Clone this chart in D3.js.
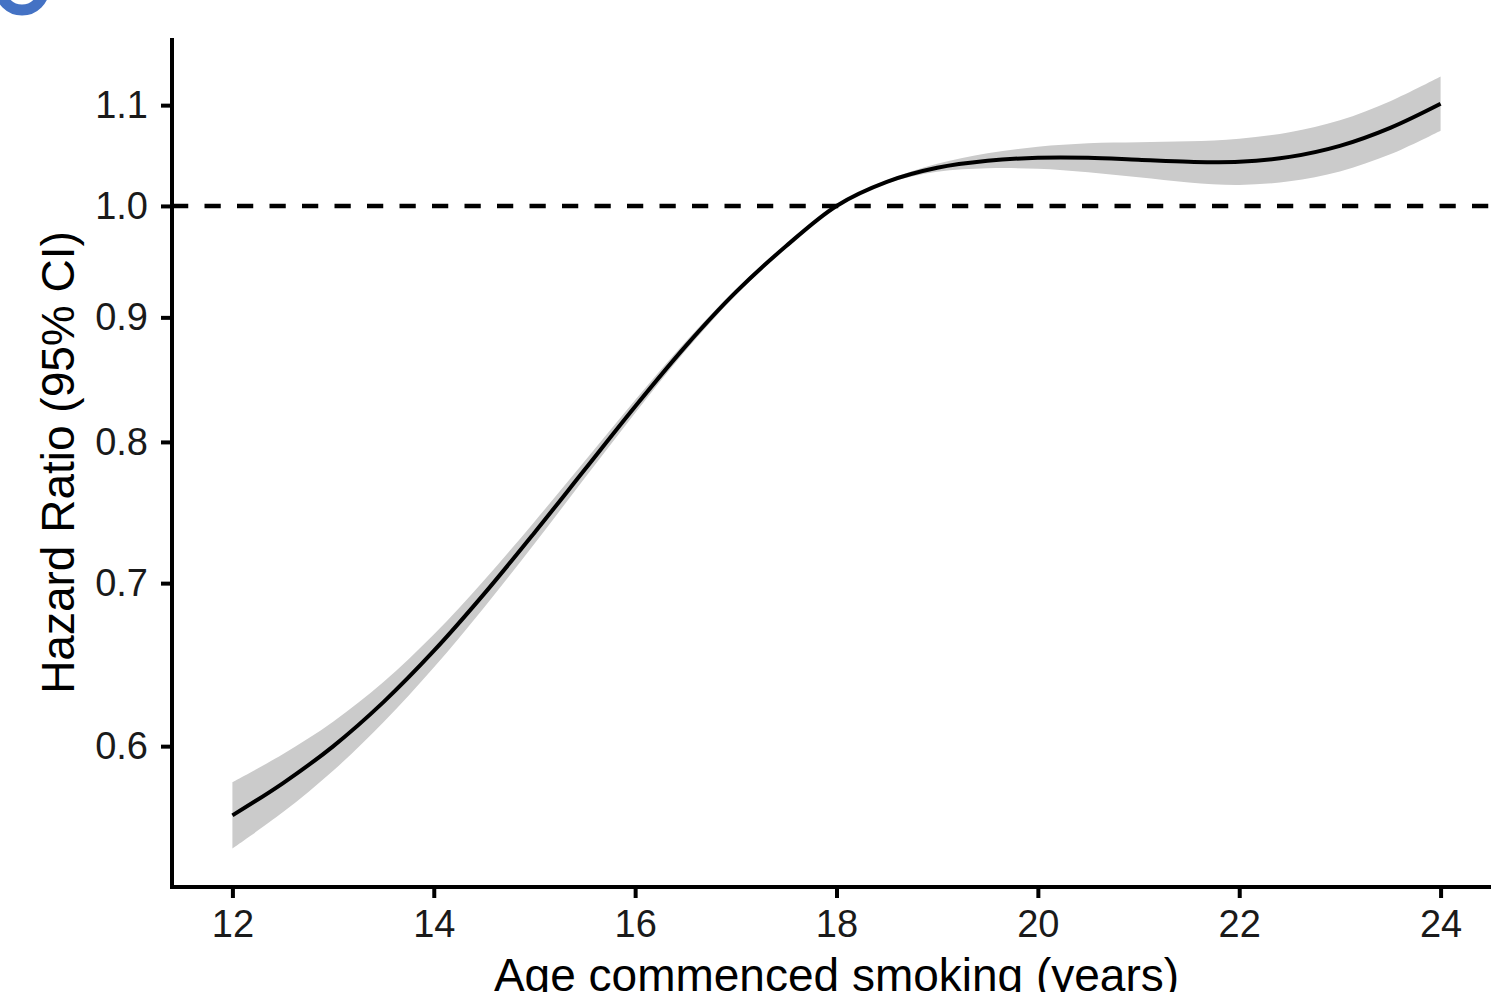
<!DOCTYPE html>
<html lang="en">
<head>
  <meta charset="utf-8">
  <title>Hazard ratio by age commenced smoking</title>
  <script src="https://cdn.jsdelivr.net/npm/d3@7"></script>
  <style>
    body { margin: 0; background: #fff; }
    svg { display: block; font-family: "Liberation Sans", Arial, sans-serif; }
  </style>
</head>
<body>
  <svg class="chart" width="1491" height="992"></svg>
  <script>
    var width = 1491, height = 992;

    // values
    var age   = [12, 12.5, 13, 13.5, 14, 14.5, 15, 15.5, 16, 16.5, 17, 17.5, 18,
                 18.5, 19, 19.5, 20, 20.5, 21, 21.5, 22, 22.5, 23, 23.5, 24];
    var hr    = [0.5620, 0.5793, 0.5999, 0.6255, 0.6565, 0.6929, 0.7342, 0.7794, 0.8273, 0.8757, 0.9217, 0.9628, 1.0000,
                 1.0230, 1.0367, 1.0436, 1.0466, 1.0466, 1.0446, 1.0426, 1.0426, 1.0475, 1.0585, 1.0767, 1.1015];
    var lower = [0.5447, 0.5636, 0.5862, 0.6137, 0.6463, 0.6841, 0.7266, 0.7731, 0.8222, 0.8720, 0.9191, 0.9614, 0.9995,
                 1.0215, 1.0328, 1.0362, 1.0357, 1.0323, 1.0274, 1.0225, 1.0201, 1.0235, 1.0332, 1.0500, 1.0737];
    var upper = [0.5798, 0.5954, 0.6140, 0.6375, 0.6668, 0.7019, 0.7419, 0.7857, 0.8324, 0.8795, 0.9243, 0.9642, 1.0005,
                 1.0245, 1.0406, 1.0510, 1.0575, 1.0610, 1.0620, 1.0630, 1.0656, 1.0722, 1.0844, 1.1041, 1.1301];

    var xTicks = [12, 14, 16, 18, 20, 22, 24];
    var yTicks = [0.6, 0.7, 0.8, 0.9, 1.0, 1.1];
    var refLine = 1.0;
    var xTitle = "Age commenced smoking (years)";
    var yTitle = "Hazard Ratio (95% CI)";

    var data = age.map(function(a, i) {
      return { age: a, hr: hr[i], lo: lower[i], hi: upper[i] };
    });

    // panel edges (the right side of the original is cut off)
    var panelLeft = 172, panelRight = 1501, panelTop = 38, panelBottom = 887;

    // ggplot-like 5% expansion, on the log scale for y
    var xExt = d3.extent(age), xPad = (xExt[1] - xExt[0]) * 0.05;
    var lnLo = Math.log(d3.min(lower)), lnHi = Math.log(d3.max(upper));
    var yPad = (lnHi - lnLo) * 0.05;

    var x = d3.scaleLinear()
              .domain([xExt[0] - xPad, xExt[1] + xPad])
              .range([panelLeft, panelRight]);

    var y = d3.scaleLog()
              .domain([Math.exp(lnLo - yPad), Math.exp(lnHi + yPad)])
              .range([panelBottom, panelTop]);

    var svg = d3.select("svg.chart");

    // panel label ring, top-left corner
    svg.append("circle")
       .attr("cx", 22).attr("cy", -12).attr("r", 22)
       .attr("fill", "none")
       .attr("stroke", "#4472c4")
       .attr("stroke-width", 11);

    var band = d3.area()
                 .curve(d3.curveCatmullRom)
                 .x(function(d) { return x(d.age); })
                 .y0(function(d) { return y(d.lo); })
                 .y1(function(d) { return y(d.hi); });

    var line = d3.line()
                 .curve(d3.curveCatmullRom)
                 .x(function(d) { return x(d.age); })
                 .y(function(d) { return y(d.hr); });

    svg.append("path")
       .datum(data)
       .attr("d", band)
       .attr("fill", "#cbcbcb");

    svg.append("line")
       .attr("x1", panelLeft).attr("x2", panelRight)
       .attr("y1", y(refLine)).attr("y2", y(refLine))
       .attr("stroke", "#000")
       .attr("stroke-width", 4.5)
       .attr("stroke-dasharray", "16.25 16.25");

    svg.append("path")
       .datum(data)
       .attr("d", line)
       .attr("fill", "none")
       .attr("stroke", "#000")
       .attr("stroke-width", 4);

    // axes
    var xAxis = svg.append("g")
       .attr("transform", "translate(0," + panelBottom + ")")
       .call(d3.axisBottom(x).tickValues(xTicks).tickSize(11).tickPadding(12).tickSizeOuter(0));

    var yAxis = svg.append("g")
       .attr("transform", "translate(" + panelLeft + ",0)")
       .call(d3.axisLeft(y).tickValues(yTicks).tickFormat(d3.format(".1f")).tickSize(11).tickPadding(13).tickSizeOuter(0));

    [xAxis, yAxis].forEach(function(g) {
      g.select(".domain").attr("stroke", "#000").attr("stroke-width", 4);
      g.selectAll(".tick line").attr("stroke", "#000").attr("stroke-width", 4);
      g.selectAll(".tick text")
       .attr("fill", "#1a1a1a")
       .style("font-size", "38px")
       .style("font-family", "'Liberation Sans', Arial, sans-serif");
    });

    // extend the axis lines to the corner like ggplot's classic theme
    xAxis.select(".domain").attr("d", "M" + (panelLeft - 2) + ",0H" + panelRight);
    yAxis.select(".domain").attr("d", "M0," + panelTop + "V" + (panelBottom + 2));

    svg.append("text")
       .attr("x", (panelLeft + panelRight) / 2)
       .attr("y", 991)
       .attr("text-anchor", "middle")
       .style("font-size", "46px")
       .text(xTitle);

    svg.append("text")
       .attr("transform", "translate(74," + ((panelTop + panelBottom) / 2) + ") rotate(-90)")
       .attr("text-anchor", "middle")
       .style("font-size", "46px")
       .text(yTitle);
  </script>
</body>
</html>
